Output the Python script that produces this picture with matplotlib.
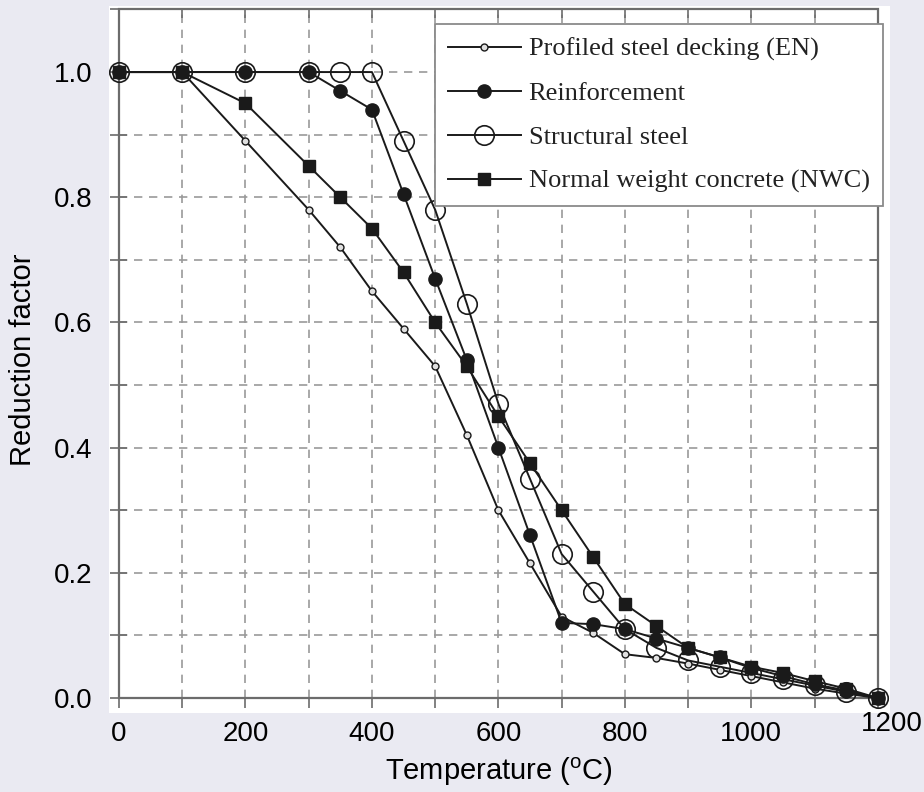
import matplotlib
matplotlib.use("Agg")
import matplotlib.pyplot as plt
from matplotlib.patches import Rectangle
import numpy as np

plt.rcParams['font.family'] = ['Liberation Sans', 'DejaVu Sans']
plt.rcParams['mathtext.fontset'] = 'custom'
plt.rcParams['mathtext.rm'] = 'Liberation Sans'

# data
temps = [0, 100, 200, 300, 350, 400, 450, 500, 550, 600, 650, 700, 750, 800,
         850, 900, 950, 1000, 1050, 1100, 1150, 1200]
decking = [1.0, 1.0, 0.89, 0.78, 0.72, 0.65, 0.59, 0.53, 0.42, 0.30, 0.215, 0.13,
           0.104, 0.07, 0.064, 0.055, 0.045, 0.035, 0.025, 0.015, 0.007, 0.0]
reinforcement = [1.0, 1.0, 1.0, 1.0, 0.97, 0.94, 0.805, 0.67, 0.54, 0.40, 0.26, 0.12,
                 0.118, 0.11, 0.095, 0.08, 0.065, 0.048, 0.035, 0.022, 0.012, 0.0]
structural = [1.0, 1.0, 1.0, 1.0, 1.0, 1.0, 0.89, 0.78, 0.63, 0.47, 0.35, 0.23,
              0.17, 0.11, 0.08, 0.06, 0.05, 0.04, 0.03, 0.02, 0.01, 0.0]
nwc = [1.0, 1.0, 0.95, 0.85, 0.80, 0.75, 0.68, 0.60, 0.53, 0.45, 0.375, 0.30,
       0.225, 0.15, 0.115, 0.08, 0.065, 0.05, 0.04, 0.027, 0.015, 0.0]

xticks = [0, 200, 400, 600, 800, 1000]
yticks = [0.0, 0.2, 0.4, 0.6, 0.8, 1.0]
xgrid = np.arange(100, 1200, 100)
ygrid = np.arange(1, 11) / 10.0
xmax, ymax = 1200, 1.1

fig = plt.figure(figsize=(9.24, 7.92), dpi=100, facecolor='#EAEAF2')
ax = fig.add_axes([0.118, 0.0997, 0.845, 0.8923])
ax.set_facecolor('white')
ax.set_xlim(-15.8, 1219)
ax.set_ylim(-0.024, 1.105)
for s in ax.spines.values():
    s.set_visible(False)

# dashed grid inside the frame
gc = '#9a9a9a'
ax.vlines(xgrid, 0, ymax, colors=gc, linestyles=(0, (5, 4)), lw=1.2, zorder=1)
ax.hlines(ygrid, 0, xmax, colors=gc, linestyles=(0, (5, 4)), lw=1.2, zorder=1)

# frame and the small ticks of the original figure
fc = '#6c6c6c'
ax.add_patch(Rectangle((0, 0), xmax, ymax, fill=False, ec=fc, lw=1.6, zorder=2))
allx = np.arange(0, 1300, 100)
ally = np.arange(0, 12) / 10.0
ax.vlines(allx, -0.016, 0, colors=fc, lw=1.2, zorder=2, clip_on=False)
ax.vlines(allx, ymax - 0.013, ymax, colors=fc, lw=1.2, zorder=2)
ax.hlines(ally, -14, 13, colors=fc, lw=1.2, zorder=2)
ax.hlines(ally, xmax - 13, xmax, colors=fc, lw=1.2, zorder=2)

lc = '#1a1a1a'
ax.plot(temps, decking, '-o', color=lc, lw=1.4, ms=5, mfc='#e0e0e0', mec=lc,
        mew=1.0, zorder=5, label='Profiled steel decking (EN)')
ax.plot(temps, structural, '-o', color=lc, lw=1.4, ms=14, mfc='none', mec=lc,
        mew=1.2, zorder=4, label='Structural steel')
ax.plot(temps, reinforcement, '-o', color=lc, lw=1.4, ms=9.5, mfc=lc, mec=lc,
        zorder=6, label='Reinforcement')
ax.plot(temps, nwc, '-s', color=lc, lw=1.4, ms=9, mfc=lc, mec=lc,
        zorder=7, label='Normal weight concrete (NWC)')

h, l = ax.get_legend_handles_labels()
order = [0, 2, 1, 3]
leg = ax.legend([h[i] for i in order], [l[i] for i in order],
                loc='upper right', bbox_to_anchor=(0.991, 0.9745), borderaxespad=0,
                prop={'family': 'Liberation Serif', 'size': 19},
                handlelength=2.75, handletextpad=0.3, labelspacing=0.77,
                borderpad=0.5, fancybox=False, framealpha=1, edgecolor='#8a8a8a')
leg.get_frame().set_linewidth(1.3)
leg.set_zorder(10)
for t in leg.get_texts():
    t.set_color('#222222')

ax.set_xticks(xticks)
ax.set_xticklabels([str(t) for t in xticks])
ax.set_yticks(yticks)
ax.set_yticklabels(['%.1f' % t for t in yticks])
ax.tick_params(axis='x', length=0, pad=6, labelsize=20)
ax.tick_params(axis='y', length=0, pad=12, labelsize=20)
ax.text(1222, -0.041, '1200', fontsize=20, ha='center', va='center', clip_on=False)

ax.set_xlabel(r'Temperature ($\mathregular{^o}$C)', fontsize=21, labelpad=6)
ax.set_ylabel('Reduction factor', fontsize=21, labelpad=12)

fig.savefig('out.png', dpi=100, facecolor=fig.get_facecolor())
